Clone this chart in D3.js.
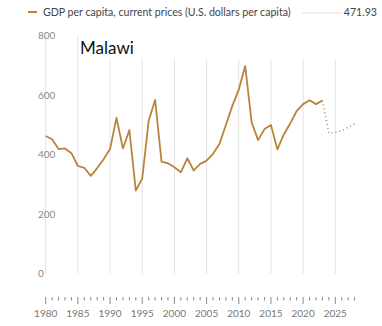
<!DOCTYPE html>
<html>
<head>
<meta charset="utf-8">
<script src="https://cdn.jsdelivr.net/npm/d3@7"></script>
<style>
  body { margin: 0; background: #fff; }
  svg { display: block; font-family: Lato, "Noto Sans", sans-serif; }
</style>
</head>
<body>
<script>
// GDP per capita, current prices (U.S. dollars per capita) - Malawi
var years = d3.range(1980, 2029);
var gdp = [463, 452, 419, 421, 405, 362, 356, 329, 355, 385,
           419, 524, 421, 483, 279, 320, 514, 584, 377, 371,
           358, 341, 388, 347, 369, 380, 403, 436, 500, 564,
           619, 698, 509, 449, 486, 500, 418, 468, 505, 547,
           570, 583, 570, 582, 471.93, 475, 481, 492, 503];
var lastActual = 2023;
var yTicks = [0, 200, 400, 600, 800];
var xTicks = [1980, 1985, 1990, 1995, 2000, 2005, 2010, 2015, 2020, 2025];
var country = "Malawi";
var seriesName = "GDP per capita, current prices (U.S. dollars per capita)";
var shownValue = "471.93";

var svgWidth = 382;
var svgHeight = 326;
var lineColor = "#b8843c";

var svg = d3.select("body")
  .append("svg")
  .attr("width", svgWidth)
  .attr("height", svgHeight);

var xScale = d3.scaleLinear()
  .domain([1980, 2025])
  .range([45.7, 335.3]);

var yScale = d3.scaleLinear()
  .domain([0, 800])
  .range([273.7, 35.7]);

var data = years.map((y, i) => ({ year: y, value: gdp[i] }));

// vertical grid lines every 5 years
svg.append("g")
  .selectAll("line")
  .data(xTicks)
  .enter()
  .append("line")
  .attr("x1", d => xScale(d))
  .attr("x2", d => xScale(d))
  .attr("y1", yScale(800))
  .attr("y2", yScale(0))
  .attr("stroke", "#e3e3e3")
  .attr("stroke-width", 1);

// y labels, left aligned
svg.append("g")
  .selectAll("text")
  .data(yTicks)
  .enter()
  .append("text")
  .attr("x", 38)
  .attr("y", d => yScale(d))
  .attr("dy", "0.35em")
  .attr("font-size", 10)
  .attr("fill", "#8a8a8a")
  .text(d => d);

// title box sits over the grid
svg.append("rect")
  .attr("x", 81.5)
  .attr("y", 28)
  .attr("width", 300)
  .attr("height", 31)
  .attr("fill", "#fff");

svg.append("text")
  .attr("x", 80)
  .attr("y", 54)
  .attr("font-size", 17)
  .attr("fill", "#111")
  .text(country);

var line = d3.line()
  .x(d => xScale(d.year))
  .y(d => yScale(d.value));

svg.append("path")
  .datum(data.filter(d => d.year <= lastActual))
  .attr("d", line)
  .attr("fill", "none")
  .attr("stroke", lineColor)
  .attr("stroke-width", 1.8)
  .attr("stroke-linejoin", "round");

svg.append("path")
  .datum(data.filter(d => d.year >= lastActual))
  .attr("d", line)
  .attr("fill", "none")
  .attr("stroke", "#a88a5a")
  .attr("stroke-width", 1.5)
  .attr("stroke-dasharray", "1,3");

// x axis: ticks every year, longer every 5
var axisY = 297;
var axis = svg.append("g");
axis.selectAll("line")
  .data(years)
  .enter()
  .append("line")
  .attr("x1", d => xScale(d))
  .attr("x2", d => xScale(d))
  .attr("y1", axisY)
  .attr("y2", d => d % 5 === 0 ? axisY + 7 : axisY + 3.5)
  .attr("stroke", "#888")
  .attr("stroke-width", 1);

axis.selectAll("text")
  .data(xTicks)
  .enter()
  .append("text")
  .attr("x", d => xScale(d))
  .attr("y", 313)
  .attr("dy", "0.35em")
  .attr("text-anchor", "middle")
  .attr("font-size", 10)
  .attr("fill", "#777")
  .text(d => d);

// legend
var legend = svg.append("g");
legend.append("line")
  .attr("x1", 28).attr("x2", 37)
  .attr("y1", 12).attr("y2", 12)
  .attr("stroke", lineColor)
  .attr("stroke-width", 2);
legend.append("text")
  .attr("x", 43)
  .attr("y", 12)
  .attr("dy", "0.35em")
  .attr("font-size", 10.6)
  .attr("fill", "#444")
  .text(seriesName);
legend.append("line")
  .attr("x1", 302).attr("x2", 341)
  .attr("y1", 13).attr("y2", 13)
  .attr("stroke", "#d6d6d6")
  .attr("stroke-width", 0.8);
legend.append("text")
  .attr("x", 377)
  .attr("y", 12)
  .attr("dy", "0.35em")
  .attr("text-anchor", "end")
  .attr("font-size", 10.6)
  .attr("fill", "#444")
  .text(shownValue);
</script>
</body>
</html>
